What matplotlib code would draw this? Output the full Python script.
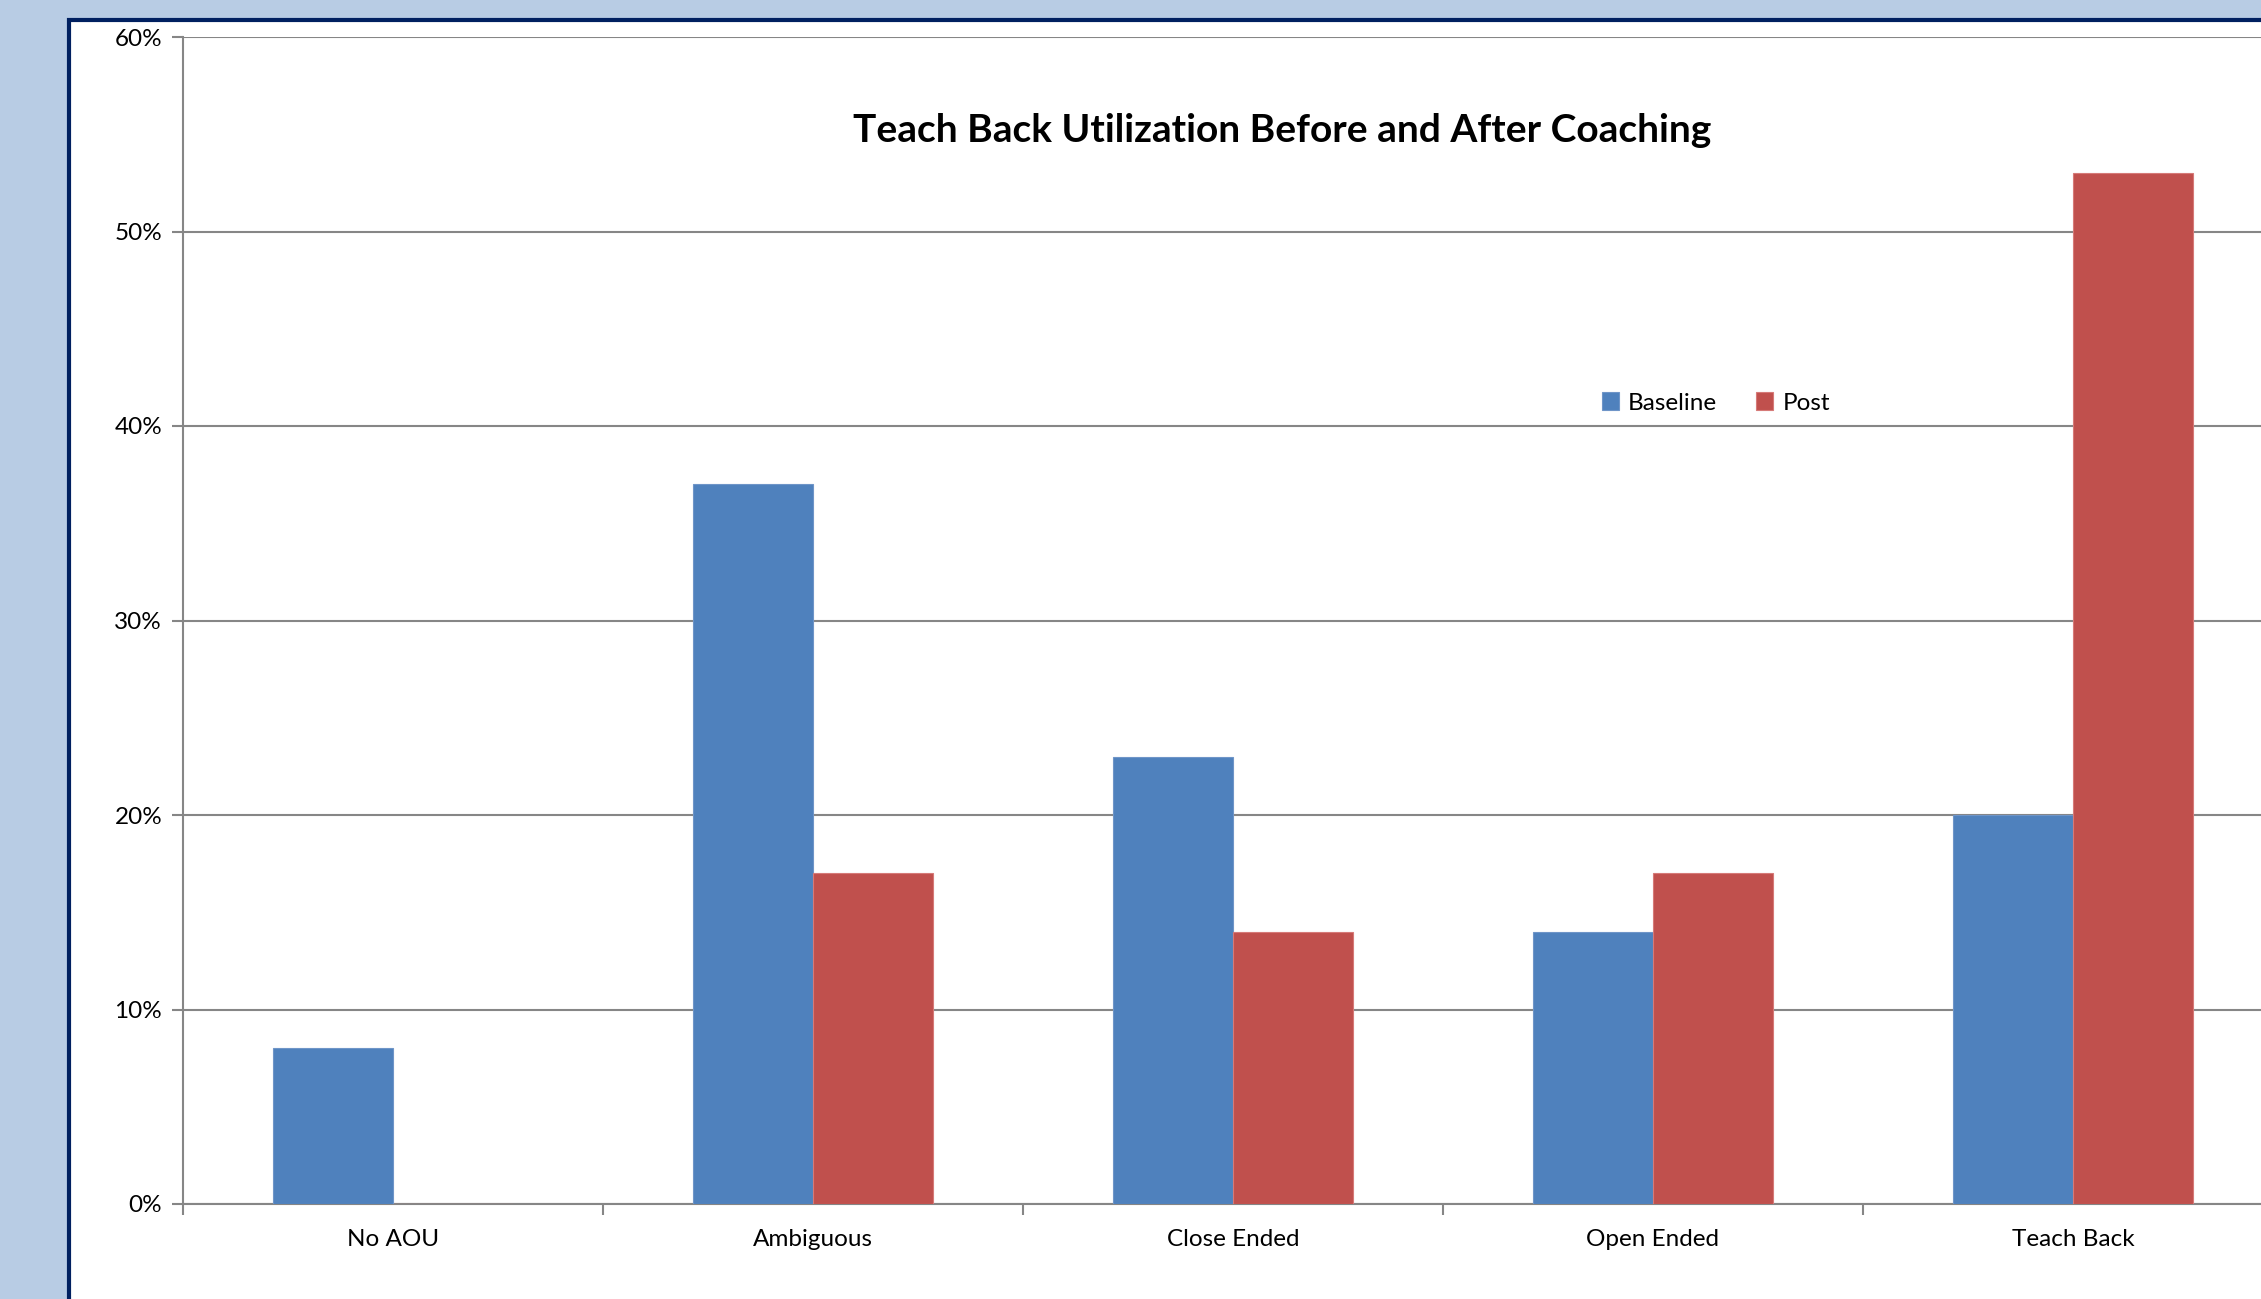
import matplotlib.pyplot as plt
from matplotlib.patches import Rectangle
import numpy as np

categories = ["No AOU", "Ambiguous", "Close Ended", "Open Ended", "Teach Back"]
baseline = [8, 37, 23, 14, 20]
post = [0, 17, 14, 17, 53]
series_names = ["Baseline", "Post"]
y_ticks = [0, 10, 20, 30, 40, 50, 60]

W, H = 2261, 1299
plt.rcParams['font.family'] = ['Lato', 'DejaVu Sans']

fig = plt.figure(figsize=(W / 100, H / 100), dpi=100)
fig.patch.set_facecolor("#B8CCE4")

# white panel with navy frame, behind everything
panel = Rectangle((69 / W, -0.05), 1.2, 1 - 20 / H + 0.05, transform=fig.transFigure,
                  facecolor="white", edgecolor="#002060", linewidth=3, zorder=-10)
fig.patches.append(panel)

# axes extend a bit past the right edge (cropped like the original)
left, right = 183 / W, 2283 / W
top, bottom = 37 / H, 1204 / H
ax = fig.add_axes([left, 1 - bottom, right - left, bottom - top])
ax.set_facecolor("none")

x = np.arange(len(categories))
w = 0.285
blue = "#4F81BD"
red = "#C0504D"
ax.bar(x - w / 2, baseline, w, color=blue, edgecolor="#6F95C8", linewidth=0.8,
       label=series_names[0], zorder=3)
ax.bar(x + w / 2, post, w, color=red, edgecolor="#D67A78", linewidth=0.8,
       label=series_names[1], zorder=3)

ax.set_xlim(-0.5, len(categories) - 0.5)
ax.set_ylim(0, 60)
ax.set_yticks(y_ticks)
ax.set_yticklabels([f"{v}%" for v in y_ticks], fontsize=17.5)
ax.set_xticks(x)
ax.set_xticklabels(categories, fontsize=17.5)
ax.set_xticks(np.arange(-0.5, len(categories)), minor=True)
ax.tick_params(axis="x", which="major", length=0, pad=18)
ax.tick_params(axis="x", which="minor", length=8, color="#868686", width=1.5, direction="out")
ax.tick_params(axis="y", length=8, color="#868686", width=1.5, pad=7)

ax.grid(axis="y", color="#868686", linewidth=1.5, zorder=1)
for s in ["top", "right"]:
    ax.spines[s].set_visible(False)
for s in ["left", "bottom"]:
    ax.spines[s].set_color("#868686")
    ax.spines[s].set_linewidth(1.5)

fig.text(1282 / W, 1 - 130 / H, "Teach Back Utilization Before and After Coaching",
         ha="center", va="center", fontsize=28, fontweight="bold")

ax.legend(loc="center", bbox_to_anchor=((1716 - 183) / 2100, (1204 - 403) / 1167),
          ncol=2, frameon=False, fontsize=17.5, handlelength=0.7, handleheight=0.7,
          handletextpad=0.4, columnspacing=1.6)

fig.savefig("out.png", dpi=100, facecolor=fig.get_facecolor())
